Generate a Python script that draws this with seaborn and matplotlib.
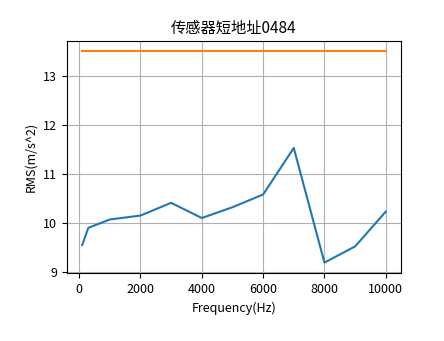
import matplotlib
matplotlib.use("Agg")
import matplotlib.pyplot as plt
import seaborn as sns
import pandas as pd

freqs = [100, 300, 1000, 2000, 3000, 4000, 5000, 6000, 7000, 8000, 9000, 10000]
rms = [9.55, 9.90, 10.07, 10.15, 10.41, 10.10, 10.32, 10.58, 11.53, 9.19, 9.52, 10.23]
limit_x = [100, 10000]
limit_y = [13.5, 13.5]

plt.rcParams['font.family'] = ['Noto Sans CJK SC', 'DejaVu Sans']
plt.rcParams['axes.unicode_minus'] = False

fig, ax = plt.subplots(figsize=(4.44, 3.41), dpi=100)
fig.subplots_adjust(left=0.151, right=0.903, top=0.88, bottom=0.199)

df = pd.DataFrame({"f": freqs, "v": rms})
sns.lineplot(data=df, x="f", y="v", ax=ax, color="#1f77b4", linewidth=1.5)
sns.lineplot(x=limit_x, y=limit_y, ax=ax, color="#ff7f0e", linewidth=1.5)

ax.grid(True, color="#b0b0b0", linewidth=0.8)
ax.set_title("传感器短地址0484", fontsize=11)
ax.set_xlabel("Frequency(Hz)", fontsize=9)
ax.set_ylabel("RMS(m/s^2)", fontsize=9)
ax.tick_params(labelsize=9)
ax.set_xticks([0, 2000, 4000, 6000, 8000, 10000])
ax.set_yticks([9, 10, 11, 12, 13])

fig.savefig("out.png", dpi=100)
